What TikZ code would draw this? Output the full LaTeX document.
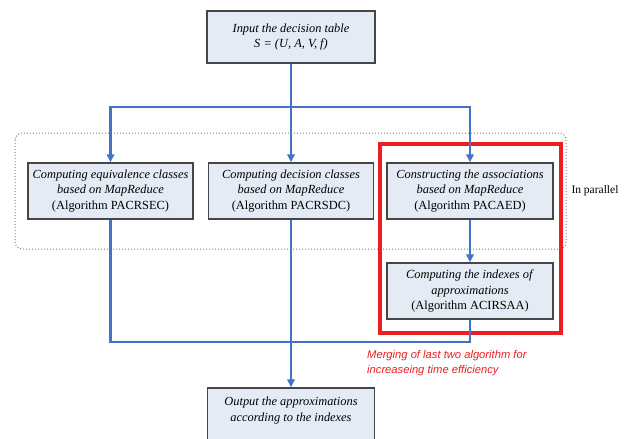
\documentclass[tikz,border=0pt]{standalone}
\usepackage{fontspec}
\setmainfont{Liberation Serif}
\newfontfamily\notefont{Liberation Sans}
\usetikzlibrary{arrows.meta,calc,positioning}
\definecolor{flowblue}{RGB}{68,114,196}
\definecolor{boxfill}{RGB}{229,235,245}
\definecolor{boxline}{RGB}{70,70,70}
\definecolor{notered}{RGB}{235,30,35}
\tikzset{
    procbox/.style = {draw=boxline, line width=1.5pt, fill=boxfill, minimum width=166pt,
        minimum height=56pt, inner sep=0pt, align=center,
        font=\fontsize{12.4}{15.5}\selectfont},
    flowline/.style = {draw=flowblue, line width=2.4pt},
    flowarrow/.style = {flowline, -{Triangle[length=8pt,width=7.5pt]}},
    notetext/.style = {font=\fontsize{11.5}{14}\selectfont}
}

\begin{document}
\begin{tikzpicture}[x=1pt,y=-1pt]
                \useasboundingbox (0,0) rectangle (632,439);
                \clip (0,0) rectangle (632,439);

                % parallel group and merged part
                \draw[gray, dotted, line width=1pt, rounded corners=7pt] (15,133) rectangle (566,249);
                \draw[notered, line width=3.5pt] (380,144) rectangle (561,333);

                % INPUT
                \node[procbox, minimum width=168pt, minimum height=52pt] (input) at (291,37)
                    {\textit{Input the decision table}\\\textit{S = (U, A, V, f)}};

                % MAPREDUCE STEPS
                \node[procbox, minimum width=165pt] (equiv) at (110.5,191)
                    {\textit{Computing equivalence classes}\\\textit{based on MapReduce}\\(Algorithm PACRSEC)};
                \node[procbox, minimum width=165pt] (decision) at (291,191)
                    {\textit{Computing decision classes}\\\textit{based on MapReduce}\\(Algorithm PACRSDC)};
                \node[procbox] (assoc) at (470,191)
                    {\textit{Constructing the associations}\\\textit{based on MapReduce}\\(Algorithm PACAED)};
                \node[procbox] (indexes) at (470,291)
                    {\textit{Computing the indexes of}\\\textit{approximations}\\(Algorithm ACIRSAA)};

                % OUTPUT
                \node[procbox, minimum width=167pt, minimum height=62pt] (output) at (291,419)
                    {\textit{Output the approximations}\\\textit{according to the indexes}\\[4pt]};

                \node[notetext, anchor=west] (parallel) at (568,191) {In parallel};
                \node[notetext, font=\notefont\itshape\fontsize{11.2}{15}\selectfont, text=notered,
                    align=left, anchor=north west, inner sep=0pt] (merging) at (367,350)
                    {Merging of last two algorithm for\\increaseing time efficiency};

                % split
                \coordinate (split) at (291,107);
                \draw[flowline] (input.south) -- (split);
                \draw[flowarrow] (split) -| (equiv.north);
                \draw[flowarrow] (split) -- (decision.north);
                \draw[flowarrow] (split) -| (assoc.north);
                \draw[flowarrow] (assoc.south) -- (indexes.north);

                % merge
                \coordinate (merge) at (291,342);
                \draw[flowline] (equiv.south) |- (merge);
                \draw[flowline] (indexes.south) |- (merge);
                \draw[flowarrow] (decision.south) -- (output.north);

            \end{tikzpicture}
\end{document}
